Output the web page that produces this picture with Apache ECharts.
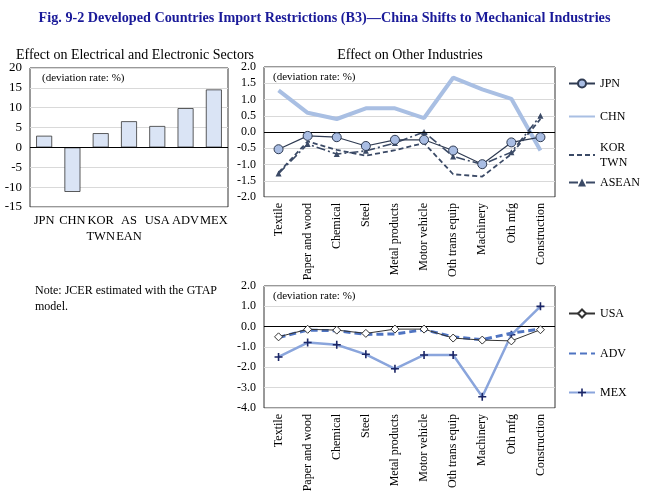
<!DOCTYPE html>
<html><head><meta charset="utf-8">
<script src="https://cdn.jsdelivr.net/npm/echarts@6/dist/echarts.min.js"></script>
<style>html,body{margin:0;padding:0;background:#fff}#c{width:649px;height:500px}</style>
</head><body><div id="c"></div>
<script>
var elecCats = ['JPN','CHN','KOR\nTWN','AS\nEAN','USA','ADV','MEX'];
var elecVals = [2.95, -11.2, 3.6, 6.6, 5.4, 9.9, 14.6];

var industries = ['Textile','Paper and wood','Chemical','Steel','Metal products','Motor vehicle','Oth trans equip','Machinery','Oth mfg','Construction'];
var jpn   = [-0.53, -0.12, -0.16, -0.43, -0.24, -0.24, -0.57, -0.99, -0.32, -0.16];
var chn   = [1.28, 0.59, 0.40, 0.73, 0.73, 0.43, 1.67, 1.31, 1.02, -0.57];
var korTwn= [-1.25, -0.29, -0.55, -0.73, -0.56, -0.34, -1.30, -1.37, -0.68, 0.40];
var asean = [-1.28, -0.37, -0.68, -0.58, -0.34, 0.00, -0.75, -1.00, -0.62, 0.50];

var usa = [-0.50, -0.13, -0.17, -0.33, -0.12, -0.12, -0.56, -0.66, -0.70, -0.15];
var adv = [-0.53, -0.17, -0.20, -0.38, -0.36, -0.15, -0.50, -0.64, -0.32, -0.12];
var mex = [-1.49, -0.78, -0.89, -1.36, -2.07, -1.39, -1.39, -3.45, -0.40, 1.00];

var serif = 'Liberation Serif';
var plusSym = 'path://M4,0H6V4H10V6H6V10H4V6H0V4H4Z';
var zeroLine = {silent:true, symbol:'none', label:{show:false}, data:[{yAxis:0}], lineStyle:{color:'#000', type:'solid', width:1}};
var gridLine = {show:true, lineStyle:{color:'#d9d9d9', width:1}};

var chart = echarts.init(document.getElementById('c'));
function catAxis(idx, data, rotate){
  return {type:'category', gridIndex:idx, data:data, boundaryGap:true,
    axisLine:{show:false}, axisTick:{show:false},
    axisLabel:{interval:0, rotate:rotate, color:'#000', fontFamily:serif, fontSize: rotate?12:12.5, margin:6, lineHeight:16}};
}
function valAxis(idx, min, max, itv, dec, fs){
  return {type:'value', gridIndex:idx, min:min, max:max, interval:itv,
    axisLine:{show:false}, axisTick:{show:false}, splitLine:gridLine,
    axisLabel:{color:'#000', fontFamily:serif, fontSize:fs, margin:8,
      formatter:function(v){return dec? v.toFixed(1) : String(v);}}};
}
function legendAt(name, top, noSym){
  var l = {data:[name], left:563, top:top, orient:'vertical', itemWidth:26, itemHeight:10,
    textStyle:{fontFamily:serif, fontSize:12, color:'#000', lineHeight:15}, selectedMode:false};
  if (noSym) l.itemStyle = {opacity:0};
  return l;
}
var option = {
  backgroundColor:'#fff',
  animation:false,
  title:[
    {text:'Fig. 9-2 Developed Countries Import Restrictions (B3)\u2014China Shifts to Mechanical Industries', left:'center', top:6,
      textStyle:{color:'#1a1a99', fontFamily:serif, fontWeight:'bold', fontSize:14.2}},
    {text:'Effect on Electrical and Electronic Sectors', left:130, textAlign:'center', top:43,
      textStyle:{color:'#000', fontFamily:serif, fontWeight:'normal', fontSize:14}},
    {text:'Effect on Other Industries', left:405, textAlign:'center', top:43,
      textStyle:{color:'#000', fontFamily:serif, fontWeight:'normal', fontSize:14}}
  ],
  graphic:[
    {type:'text', left:42, top:73, style:{text:'(deviation rate: %)', font:'11px "Liberation Serif"', fill:'#000'}},
    {type:'text', left:273, top:72, style:{text:'(deviation rate: %)', font:'11px "Liberation Serif"', fill:'#000'}},
    {type:'text', left:273, top:291, style:{text:'(deviation rate: %)', font:'11px "Liberation Serif"', fill:'#000'}},
    {type:'text', left:35, top:283, style:{text:'Note: JCER estimated with the GTAP\nmodel.', font:'12px "Liberation Serif"', fill:'#000', lineHeight:16}}
  ],
  legend:[
    legendAt('JPN', 71), legendAt('CHN', 104, true), legendAt('KOR\nTWN', 135, true), legendAt('ASEAN', 170),
    legendAt('USA', 301), legendAt('ADV', 341, true), legendAt('MEX', 380)
  ],
  grid:[
    {left:30, top:68, width:198, height:139, show:true, borderColor:'#333', borderWidth:1, backgroundColor:'transparent'},
    {left:264, top:67, width:291, height:130, show:true, borderColor:'#333', borderWidth:1, backgroundColor:'transparent'},
    {left:264, top:286, width:291, height:122, show:true, borderColor:'#333', borderWidth:1, backgroundColor:'transparent'}
  ],
  xAxis:[catAxis(0, elecCats, 0), catAxis(1, industries, 90), catAxis(2, industries, 90)],
  yAxis:[valAxis(0, -15, 20, 5, false, 13), valAxis(1, -2, 2, 0.5, true, 12), valAxis(2, -4, 2, 1, true, 12)],
  series:[
    {type:'bar', name:'elec', xAxisIndex:0, yAxisIndex:0, data:elecVals, barWidth:16,
      itemStyle:{color:'#dae4f5', borderColor:'#333', borderWidth:0.8}, markLine:zeroLine},
    {type:'line', name:'CHN', xAxisIndex:1, yAxisIndex:1, data:chn, symbol:'none',
      lineStyle:{color:'#a9bfe3', width:4}, itemStyle:{color:'#a9bfe3'}, markLine:zeroLine, z:2},
    {type:'line', name:'KOR\nTWN', xAxisIndex:1, yAxisIndex:1, data:korTwn, symbol:'none',
      lineStyle:{color:'#3b4a66', width:1.8, type:[5,3]}, itemStyle:{color:'#3b4a66'}, z:3},
    {type:'line', name:'ASEAN', xAxisIndex:1, yAxisIndex:1, data:asean, symbol:'triangle', symbolSize:6,
      lineStyle:{color:'#3b4a66', width:1.6, type:[9,3,2,3]}, itemStyle:{color:'#3b4a66'}, z:4},
    {type:'line', name:'JPN', xAxisIndex:1, yAxisIndex:1, data:jpn, symbol:'circle', symbolSize:9,
      lineStyle:{color:'#2f3b52', width:1.2}, itemStyle:{color:'#a9bde3', borderColor:'#2f3b52', borderWidth:1}, z:5},
    {type:'line', name:'MEX', xAxisIndex:2, yAxisIndex:2, data:mex, symbol:plusSym, symbolSize:8,
      lineStyle:{color:'#8aa5dc', width:2.5}, itemStyle:{color:'#1b2666'}, markLine:zeroLine, z:3},
    {type:'line', name:'ADV', xAxisIndex:2, yAxisIndex:2, data:adv, symbol:'none',
      lineStyle:{color:'#4f74c2', width:3, type:[7,4]}, itemStyle:{color:'#4f74c2'}, z:4},
    {type:'line', name:'USA', xAxisIndex:2, yAxisIndex:2, data:usa, symbol:'diamond', symbolSize:8,
      lineStyle:{color:'#333', width:1}, itemStyle:{color:'#fff', borderColor:'#333', borderWidth:1}, z:5}
  ]
};
chart.setOption(option);
</script></body></html>
